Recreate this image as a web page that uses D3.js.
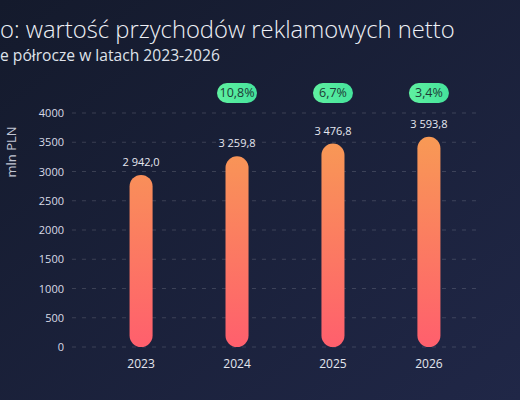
<!DOCTYPE html>
<html>
<head>
<meta charset="utf-8">
<script src="https://cdn.jsdelivr.net/npm/d3@7"></script>
<style>
  html, body { margin: 0; padding: 0; background: #181d35; }
  svg { display: block; }
</style>
</head>
<body>
<div id="chart"></div>
<script>
// data
var years = ["2023", "2024", "2025", "2026"];
var values = [2942.0, 3259.8, 3476.8, 3593.8];
var valueLabels = ["2 942,0", "3 259,8", "3 476,8", "3 593,8"];
var growthLabels = [null, "10,8%", "6,7%", "3,4%"];
var yTicks = [0, 500, 1000, 1500, 2000, 2500, 3000, 3500, 4000];

var W = 520, H = 400;
var margin = {top: 113, right: 43, bottom: 53, left: 72};
var width = W - margin.left - margin.right,
    height = H - margin.top - margin.bottom;

var svg = d3.select("#chart")
  .append("svg")
    .attr("width", W)
    .attr("height", H);

// background + gradients
var defs = svg.append("defs");
var bg = defs.append("linearGradient")
    .attr("id", "bg")
    .attr("x1", "0").attr("y1", "0").attr("x2", "1").attr("y2", "1");
bg.append("stop").attr("offset", "0%").attr("stop-color", "#141a2c");
bg.append("stop").attr("offset", "100%").attr("stop-color", "#202747");

var barGrad = defs.append("linearGradient")
    .attr("id", "barGrad")
    .attr("gradientUnits", "userSpaceOnUse")
    .attr("x1", 0).attr("y1", 0).attr("x2", 0).attr("y2", height);
barGrad.append("stop").attr("offset", "0%").attr("stop-color", "#f7a052");
barGrad.append("stop").attr("offset", "100%").attr("stop-color", "#ff5f6d");

var pillGrad = defs.append("linearGradient")
    .attr("id", "pillGrad")
    .attr("x1", "0").attr("y1", "0").attr("x2", "1").attr("y2", "0");
pillGrad.append("stop").attr("offset", "0%").attr("stop-color", "#5ff0a0");
pillGrad.append("stop").attr("offset", "100%").attr("stop-color", "#45e39c");

svg.append("rect")
    .attr("width", W).attr("height", H)
    .attr("fill", "url(#bg)");

// fit a text to a given width by scaling its font size
function fitText(sel, target) {
  var fs = parseFloat(sel.style("font-size"));
  var len = sel.node().getComputedTextLength();
  sel.style("font-size", (fs * target / len) + "px");
}

// title (cut at left edge like the original)
var title = svg.append("text")
    .attr("x", 0).attr("y", 38)
    .attr("fill", "#eef0f6")
    .style("font-family", "'Open Sans', sans-serif")
    .style("font-weight", 300)
    .style("font-size", "21px")
    .text("o: wartość przychodów reklamowych netto");
fitText(title, 455);

var subtitle = svg.append("text")
    .attr("x", 0).attr("y", 61)
    .attr("fill", "#dfe2ea")
    .style("font-family", "'Open Sans', sans-serif")
    .style("font-weight", 400)
    .style("font-size", "15px")
    .text("e półrocze w latach 2023-2026");
fitText(subtitle, 220);

var g = svg.append("g")
    .attr("transform", "translate(" + margin.left + "," + margin.top + ")");

// scales
var x = d3.scaleBand()
  .domain(years)
  .range([0, 426])
  .paddingInner(0.76)
  .paddingOuter(0.6);

var y = d3.scaleLinear()
  .domain([0, 4000])
  .range([height, 0]);

// grid
g.append("g")
  .selectAll("line")
  .data(yTicks)
  .enter()
  .append("line")
    .attr("x1", 0).attr("x2", width)
    .attr("y1", d => y(d)).attr("y2", d => y(d))
    .attr("stroke", "rgba(255,255,255,0.15)")
    .attr("stroke-dasharray", "4,6");

// Y axis
var yAxis = g.append("g")
  .call(d3.axisLeft(y).tickValues(yTicks).tickFormat(d3.format("d")).tickSize(0).tickPadding(8));
yAxis.select(".domain").remove();
yAxis.selectAll("text")
  .attr("fill", "#d8dbe6")
  .style("font-family", "'Open Sans', sans-serif")
  .style("font-size", "11px");

svg.append("text")
    .attr("transform", "translate(16,152) rotate(-90)")
    .attr("text-anchor", "middle")
    .attr("fill", "#c2c6d4")
    .style("font-family", "'Open Sans', sans-serif")
    .style("font-size", "13px")
    .text("mln PLN");

// X axis
var xAxis = g.append("g")
  .attr("transform", "translate(0," + height + ")")
  .call(d3.axisBottom(x).tickSize(0).tickPadding(12));
xAxis.select(".domain").remove();
xAxis.selectAll("text")
  .attr("fill", "#e3e6ee")
  .style("font-family", "'Open Sans', sans-serif")
  .style("font-size", "12px");

// bars
var bw = x.bandwidth();
g.selectAll(".bar")
  .data(values)
  .enter()
  .append("rect")
    .attr("class", "bar")
    .attr("x", (d, i) => x(years[i]))
    .attr("y", d => y(d))
    .attr("width", bw)
    .attr("height", d => y(0) - y(d))
    .attr("rx", bw / 2)
    .attr("fill", "url(#barGrad)");

// value labels
g.selectAll(".val")
  .data(values)
  .enter()
  .append("text")
    .attr("class", "val")
    .attr("x", (d, i) => x(years[i]) + bw / 2)
    .attr("y", d => y(d) - 9)
    .attr("text-anchor", "middle")
    .attr("fill", "#e6e8f0")
    .style("font-family", "'Open Sans', sans-serif")
    .style("font-size", "11px")
    .text((d, i) => valueLabels[i]);

// growth pills
var pills = g.selectAll(".pill")
  .data(growthLabels.map((d, i) => ({label: d, year: years[i]})).filter(d => d.label))
  .enter()
  .append("g")
    .attr("class", "pill")
    .attr("transform", d => "translate(" + (x(d.year) + bw / 2) + "," + (-20) + ")");

pills.append("rect")
    .attr("x", -20).attr("y", -10)
    .attr("width", 40).attr("height", 20)
    .attr("rx", 10)
    .attr("fill", "url(#pillGrad)");

pills.append("text")
    .attr("text-anchor", "middle")
    .attr("dy", "0.35em")
    .attr("fill", "#1d3b36")
    .style("font-family", "'Open Sans', sans-serif")
    .style("font-size", "12.5px")
    .text(d => d.label);
</script>
</body>
</html>
